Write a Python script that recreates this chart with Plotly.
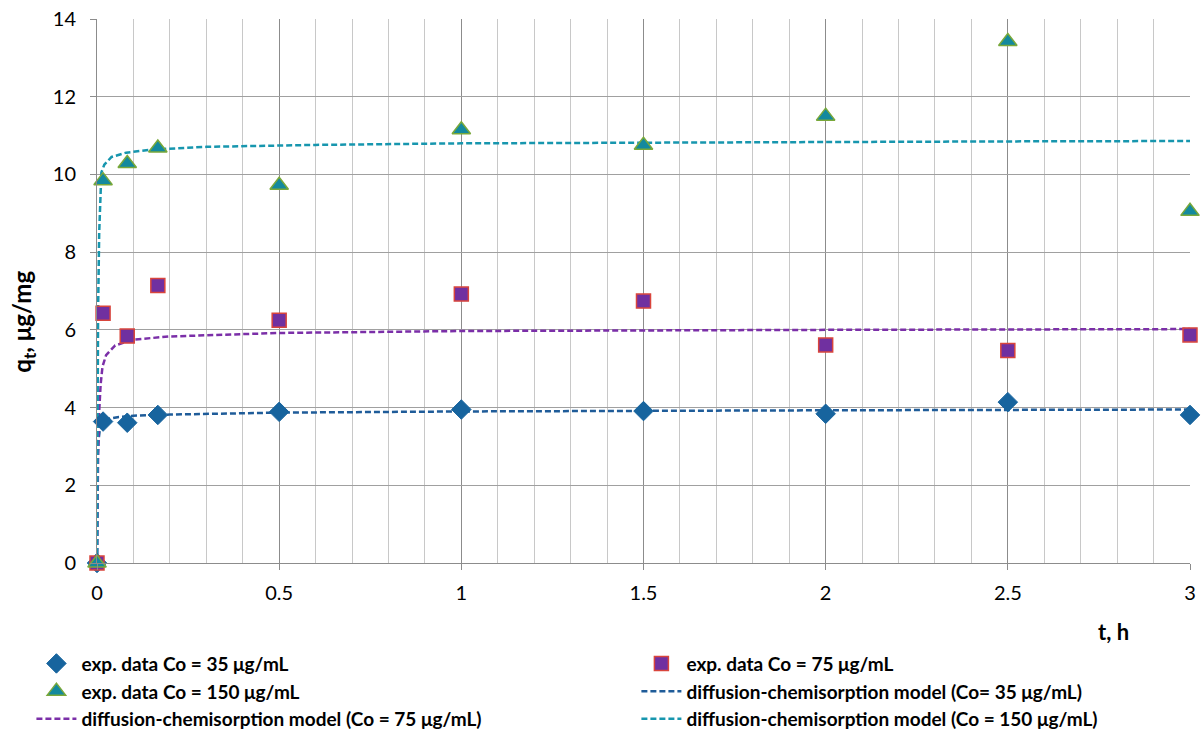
import plotly.graph_objects as go

# experimental time points (h)
t_exp = [0, 0.0167, 0.083, 0.167, 0.5, 1, 1.5, 2, 2.5, 3]
q35_exp = [0, 3.64, 3.61, 3.81, 3.89, 3.95, 3.91, 3.84, 4.14, 3.81]
q75_exp = [0, 6.43, 5.84, 7.14, 6.25, 6.92, 6.74, 5.61, 5.47, 5.87]
q150_exp = [0, 9.84, 10.28, 10.68, 9.72, 11.15, 10.75, 11.5, 13.42, 9.05]

# model curves
t_m35 = [0, 0.0005, 0.001, 0.002, 0.004, 0.008, 0.015, 0.03, 0.06, 0.1, 0.2, 0.5, 1, 1.5, 2, 2.5, 3]
q_m35 = [0, 1.5, 2.1, 2.7, 3.15, 3.45, 3.62, 3.71, 3.76, 3.79, 3.82, 3.87, 3.9, 3.92, 3.93, 3.94, 3.95]
t_m75 = [0, 0.001, 0.003, 0.006, 0.01, 0.015, 0.025, 0.05, 0.1, 0.2, 0.5, 1, 1.5, 2, 2.5, 3]
q_m75 = [0, 1.6, 2.8, 3.9, 4.6, 5.05, 5.35, 5.6, 5.75, 5.83, 5.92, 5.97, 5.99, 6.0, 6.01, 6.02]
t_m150 = [0, 0.001, 0.003, 0.006, 0.009, 0.012, 0.02, 0.04, 0.08, 0.15, 0.3, 0.6, 1, 1.5, 2, 2.5, 3]
q_m150 = [0, 4.0, 6.5, 8.5, 9.6, 10.05, 10.25, 10.45, 10.56, 10.64, 10.71, 10.76, 10.8, 10.82, 10.84, 10.85, 10.86]

x_ticks = [0, 0.5, 1, 1.5, 2, 2.5, 3]
x_ticktext = ["0", "0.5", "1", "1.5", "2", "2.5", "3"]
y_ticks = [0, 2, 4, 6, 8, 10, 12, 14]

names = [
    "exp. data Co = 35 μg/mL",
    "exp. data Co = 75 μg/mL",
    "exp. data Co = 150 μg/mL",
    "diffusion-chemisorption model (Co= 35 μg/mL)",
    "diffusion-chemisorption model (Co = 75 μg/mL)",
    "diffusion-chemisorption model (Co = 150 μg/mL)",
]

FONT = "Lato"
dash = "6px,3px"

fig = go.Figure()
fig.add_trace(go.Scatter(x=t_m35, y=q_m35, mode="lines", name=names[3], legend="legend2", legendrank=2,
                         line=dict(color="#1F5C99", width=2.5, dash=dash)))
fig.add_trace(go.Scatter(x=t_m75, y=q_m75, mode="lines", name=names[4], legend="legend", legendrank=3,
                         line=dict(color="#7B2FA8", width=2.5, dash=dash)))
fig.add_trace(go.Scatter(x=t_m150, y=q_m150, mode="lines", name=names[5], legend="legend2", legendrank=3,
                         line=dict(color="#1796AE", width=2.5, dash=dash)))
fig.add_trace(go.Scatter(x=t_exp, y=q35_exp, mode="markers", name=names[0], legend="legend", legendrank=1,
                         cliponaxis=False,
                         marker=dict(symbol="diamond", size=15, color="#17649E",
                                     line=dict(color="#17649E", width=1))))
fig.add_trace(go.Scatter(x=t_exp, y=q75_exp, mode="markers", name=names[1], legend="legend2", legendrank=1,
                         cliponaxis=False,
                         marker=dict(symbol="square", size=14, color="#7030A0",
                                     line=dict(color="#D9453C", width=1.5))))
fig.add_trace(go.Scatter(x=t_exp, y=q150_exp, mode="markers", name=names[2], legend="legend", legendrank=2,
                         cliponaxis=False,
                         marker=dict(symbol="triangle-up", size=16, color="#13899E",
                                     line=dict(color="#79A83A", width=1.5))))

leg_common = dict(orientation="v", xanchor="left", y=-0.15, yanchor="top",
                  font=dict(family=FONT, size=19, color="black", weight="bold"),
                  tracegroupgap=0, itemwidth=40, bgcolor="rgba(0,0,0,0)")

fig.update_layout(
    width=1203, height=735,
    margin=dict(l=97, r=13, t=19, b=172, autoexpand=False),
    paper_bgcolor="white", plot_bgcolor="white",
    font=dict(family=FONT, size=20, color="black"),
    showlegend=True,
    legend=dict(x=-0.06, **leg_common),
    legend2=dict(x=0.4935, **leg_common),
)
fig.update_xaxes(
    range=[0, 3], tickvals=x_ticks, ticktext=x_ticktext,
    showgrid=True, gridcolor="#8C8C8C", gridwidth=1,
    minor=dict(dtick=0.1, tick0=0, showgrid=True, gridcolor="#C8C8C8", gridwidth=1),
    showline=True, linecolor="#8C8C8C", linewidth=1,
    ticks="outside", ticklen=6, tickcolor="#8C8C8C", ticklabelstandoff=6,
    zeroline=False, tickfont=dict(size=20),
)
fig.update_yaxes(
    range=[0, 14], tickvals=y_ticks,
    showgrid=True, gridcolor="#A0A0A0", gridwidth=1,
    showline=True, linecolor="#8C8C8C", linewidth=1,
    ticks="outside", ticklen=6, tickcolor="#8C8C8C", ticklabelstandoff=10,
    zeroline=False, tickfont=dict(size=20),
)
fig.add_annotation(text="<b>q<sub>t</sub>, μg/mg</b>", textangle=-90, xref="paper", yref="paper",
                   x=-0.068, y=0.443, xanchor="center", yanchor="middle", showarrow=False,
                   font=dict(family=FONT, size=24, color="black"))
fig.add_annotation(text="<b>t, h</b>", xref="paper", yref="paper", x=0.93, y=-0.125,
                   xanchor="center", yanchor="middle", showarrow=False,
                   font=dict(family=FONT, size=22, color="black"))

fig.write_html("out.html")
